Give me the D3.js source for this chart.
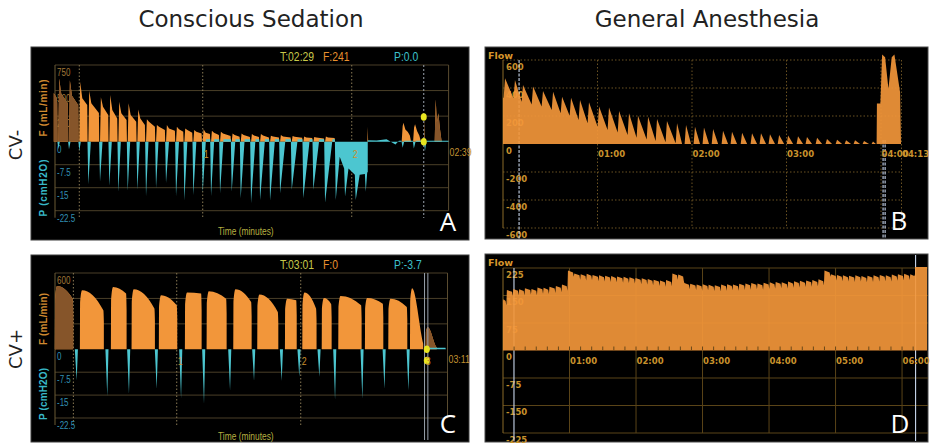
<!DOCTYPE html>
<html>
<head>
<meta charset="utf-8">
<script src="https://cdn.jsdelivr.net/npm/d3@7"></script>
<style>
  body { margin: 0; background: #fff; }
  svg { display: block; }
</style>
</head>
<body>
<svg id="fig" width="930" height="444"></svg>
<script>
// ---------------- Panel A: conscious sedation, CV- ----------------
const aTimeEnd = 159;                       // 02:39
const aBreathT = [0, 1.85, 6.16, 10.31, 13.95, 18.65, 22.40, 26.03, 29.79, 33.68, 37.17, 41.20, 45.22, 49.25,
  52.61, 56.23, 60.0, 63.35, 66.97, 71.67, 75.29, 79.45, 83.08, 87.1, 91.13, 95.84, 100.5, 104.54, 109.25, 113.56];
const aPeak = [475, 619, 602, 586, 498, 434, 456, 391, 375, 316, 219, 163, 163, 147, 130, 114, 121, 107, 98, 81,
  80, 75, 75, 58, 65, 56, 50, 45, 50];
const aMid  = [430, 470, 450, 424, 375, 342, 310, 277, 260, 228, 195, 147, 130, 121, 114, 98, 88, 88, 81, 65,
  65, 60, 60, 50, 52, 48, 42, 40, 42];
const aEnd  = [380, 375, 358, 358, 280, 260, 228, 212, 195, 163, 147, 114, 107, 98, 88, 81, 75, 65, 55, 49,
  45, 45, 40, 40, 40, 38, 35, 32, 35];
const aTailFlow = [[126.3, 0], [126.45, 146], [126.6, 0], [140.1, 0], [140.5, 150], [140.8, 186], [141.6, 120],
  [142.6, 95], [143.4, 60], [143.9, 0], [144.7, 0], [145.1, 140], [145.5, 170], [146.3, 105], [147.2, 60],
  [147.9, 0], [149.1, 0], [149.2, 241], [149.35, 0], [153.4, 0], [153.8, 414], [154.3, 190], [154.9, 277],
  [155.5, 130], [156.2, 0], [159, 0]];
const aDipT = [1.85, 6.16, 10.31, 13.95, 18.65, 22.40, 26.03, 29.79, 33.68, 37.17, 41.20, 45.22, 49.25, 52.61,
  56.23, 60.0, 63.35, 66.97, 71.67, 75.29, 79.45, 83.08, 87.1, 91.13, 95.84, 100.5, 104.54, 109.25, 113.56,
  117.3, 121.6, 125.64];
const aDipP = [-2.5, -2.5, -3.0, -13.9, -13.0, -14.4, -16.3, -16.0, -15.7, -17.7, -15.2, -13.5, -17.7, -19.2,
  -17.4, -16.6, -17.7, -16.8, -16.3, -18.4, -20.0, -19.0, -19.2, -16.8, -15.7, -18.4, -15.7, -19.8, -19.0,
  -17.9, -19.0, -16.3];
const aDipRise = [0.6, 0.6, 0.6, 1.0, 1.0, 1.0, 1.0, 1.0, 1.0, 1.0, 1.0, 1.2, 1.2, 1.2, 1.2, 1.3, 1.3, 1.4,
  1.5, 1.6, 1.8, 2.0, 2.0, 2.2, 2.4, 2.6, 2.4, 3.0, 1.6, 1.4, 1.6, 0.6];
const aDipBase = [0, 0, 0, 0, 0, 0, 0, 0, 0, 0, 0, 0, 0, 0, 0, 0.8, 0.8, 0.8, 0.8, 0.8, 0.8, 0.8, 0.8, 0.8,
  0.8, 0.8, 0.8, 0.8, -4.9, -8.7, -10.8, -10];
// level reached just before each dip inside the long breath-hold stretch
const aHoldLevel = [[116.9, -8.7], [121.2, -10.8], [125.3, -10.5]];
const aTailPres = [[126.45, -10], [126.45, 0.5], [130, 0.4], [134, 0.8], [137.6, -0.9], [139, 0.3], [140, 0.3],
  [140.5, -2], [141.2, 0.3], [144.6, 0.3], [145, -2.2], [145.8, 0.3], [149, 0.3], [149.5, -3], [150.1, 0.3],
  [159, 0.3]];
const aCursor = { t: 149, f: 241, p: 0.0 };
const aShade = [[0, 10.3], [149.4, 159]];

// ---------------- Panel C: conscious sedation, CV+ ----------------
const cTimeEnd = 191;                       // 03:11
const cBreathStart = [1.1, 13.2, 28.2, 38.2, 51.4, 64.0, 74.5, 87.4, 99.0, 112.4, 120.8, 130.2, 138.2, 151.1,
  162.4, 172.9, 180.5];
const cBreathEnd = [9.97, 24.8, 35.8, 49.5, 60.3, 72.1, 84.2, 96.3, 109.2, 118.1, 127.7, 135.0, 149.5, 160.0,
  171.6, 179.3, 185.8];
const cPeak = [498, 465, 490, 472, 425, 446, 457, 472, 430, 398, 446, 404, 420, 404, 398, 480, 173];
const cEndV = [398, 307, 438, 320, 346, 438, 398, 372, 294, 386, 320, 357, 346, 359, 333, 60, 20];
const cDipT = [11.6, 26.4, 36.9, 50.3, 62.1, 73.2, 85.8, 97.4, 110.8, 119.3, 129.0, 136.6, 149.8, 160.5, 172.1];
const cDipP = [-10.2, -15.4, -14.6, -13.0, -16.1, -17.9, -13.5, -10.4, -10.4, -9.1, -9.1, -16.6, -16.3, -13.0, -13.5];
const cTailPres = [[181, 0], [181.3, 0.5], [190, 0.5], [190.2, 0]];
const cCursor = { t: 181, f: 0, p: -3.7 };
const cShade = [[0, 10.0], [180.0, 191]];

// ---------------- Panel B: general anesthesia, CV- ----------------
const bTimeEnd = 253;                       // 04:13
const bStart = 330;
const bPeakT = [1.3, 7.6, 12.7, 19.1, 25.4, 31.8, 37.5, 43.2, 48.9, 54.6, 61.0, 67.3, 73.7, 80.0, 85.7, 92.1,
  97.8, 104.1, 110.5, 116.2, 121.9, 127.6, 133.4, 139.7, 145.4, 151.8, 158.1, 163.8, 169.5, 175.3, 181.0, 187.3,
  193.0, 199.4, 205.7, 212.1, 217.8, 223.5, 229.2, 234.9];
const bPeak = [469, 457, 421, 410, 379, 374, 338, 331, 314, 298, 267, 260, 236, 219, 202, 195, 179, 164, 148, 136,
  124, 117, 107, 95, 88, 81, 76, 76, 69, 64, 60, 55, 50, 45, 36, 31, 26, 26, 22, 17];
const bTrough = [326, 302, 283, 267, 243, 219, 202, 171, 148, 124, 100, 83, 64, 45, 33, 21, 12, 5, 0, 0,
  0, 0, 0, 0, 0, 0, 0, 0, 0, 0, 0, 0, 0, 0, 0, 0, 0, 0, 0, 0];
const bFinal = [[237.2, 0], [237.4, 290], [239.6, 290], [240.7, 640], [242.6, 620], [244.7, 395], [246.8, 620],
  [248.5, 640], [252.1, 370], [252.7, 0]];
const bCursors = [10.2, 241.3, 242.6];

// ---------------- Panel D: general anesthesia, CV+ ----------------
const dTimeEnd = 382.5;
const dStart = 136;
const dNotchT = [3, 8.8, 14.1, 19.3, 25.2, 30.6, 36.1, 41.4, 47.2, 52.7, 58.1, 63.8, 69.6, 75.0, 80.3, 86.2, 91.7,
  97.1, 102.4, 108.3, 113.6, 119.0, 124.7, 130.1, 135.4, 141.2, 146.6, 152.3, 157.6, 163.1, 168.4, 174.2, 179.7,
  185.0, 190.6, 196.3, 201.7, 207.0, 212.6, 218.2, 223.5, 229.1, 234.6, 240.2, 245.5, 251.0, 256.7, 262.1,
  267.4, 273.0, 278.6, 284.1, 289.5, 295.3, 300.8, 306.2, 311.7, 317.4, 322.9, 328.3, 333.8, 339.4, 344.9,
  350.3, 355.8, 361.4, 366.9];
const dTop = [140, 165, 168, 167, 170, 168, 172, 171, 174, 176, 180, 218, 210, 208, 209, 206, 205, 204, 203, 202,
  201, 200, 198, 197, 195, 193, 191, 192, 210, 207, 184, 182, 180, 181, 179, 178, 180, 181, 180, 182, 183, 184,
  183, 185, 186, 187, 186, 188, 189, 190, 191, 192, 194, 218, 208, 206, 205, 204, 205, 203, 204, 205, 206, 205,
  207, 208, 209, 208];
const dNotch = 17;
const dFinal = [[371.7, 208], [371.7, 228], [382.5, 228]];
const dCursors = [9.9, 372.2];

// ---------------- shared styling ----------------
const ORANGE = "#f2963a", ORANGE_DK = "#86552a", CYAN = "#4cc6d0";
const SANS = "'Liberation Sans',Arial,sans-serif";
const BOLD = "'DejaVu Sans',Verdana,sans-serif";
const svg = d3.select("#fig");
const mmss = s => { const m = Math.floor(s / 60), r = Math.round(s % 60); return String(m).padStart(2, "0") + ":" + String(r).padStart(2, "0"); };

// condensed monitor lettering: a regular sans squeezed horizontally
function narrow(g, x, y, str, size, fill, anchor) {
  return g.append("text").attr("transform", `translate(${x},${y}) scale(0.8,1)`)
    .attr("font-family", SANS).attr("font-size", size).attr("fill", fill)
    .attr("text-anchor", anchor || "start").text(str);
}

// titles and row labels
svg.append("text").attr("x", 251).attr("y", 27).attr("text-anchor", "middle")
  .attr("font-family", "'DejaVu Sans',sans-serif").attr("font-size", 23).attr("fill", "#222").text("Conscious Sedation");
svg.append("text").attr("x", 707).attr("y", 27).attr("text-anchor", "middle")
  .attr("font-family", "'DejaVu Sans',sans-serif").attr("font-size", 23).attr("fill", "#222").text("General Anesthesia");
[["CV-", 145], ["CV+", 349]].forEach(([t, cy]) => {
  svg.append("text").attr("transform", `translate(22,${cy}) rotate(-90)`).attr("text-anchor", "middle")
    .attr("font-family", "'DejaVu Sans',sans-serif").attr("font-size", 18).attr("fill", "#222").text(t);
});

function panelLetter(ch, x, y) {
  svg.append("text").attr("x", x).attr("y", y).attr("text-anchor", "middle")
    .attr("font-family", "'Open Sans','DejaVu Sans',sans-serif").attr("font-size", 26).attr("fill", "#fff").text(ch);
}

// ---------- sedation monitor panels (flow + pressure) ----------
function sedationPanel(o) {
  const g = svg.append("g");
  const { x, yF, yP } = o;
  g.append("rect").attr("x", o.box[0]).attr("y", o.box[1]).attr("width", o.box[2]).attr("height", o.box[3])
    .attr("fill", "#000").attr("stroke", "#3c3c3c");
  const xl = 55, xr = x(o.tEnd), yTop = yF(o.flowTicks[o.flowTicks.length - 1]), yBot = yP(-22.5);

  // grid
  const grid = g.append("g").attr("stroke", "#4a3f28").attr("stroke-width", 1);
  o.flowTicks.forEach(v => grid.append("line").attr("x1", xl).attr("x2", xr).attr("y1", yF(v)).attr("y2", yF(v)));
  o.presTicks.forEach(v => grid.append("line").attr("x1", xl).attr("x2", xr).attr("y1", yP(v)).attr("y2", yP(v)));
  g.append("line").attr("x1", xl).attr("x2", xl).attr("y1", yTop).attr("y2", yBot + 7).attr("stroke", "#6a5a35");
  g.append("line").attr("x1", xr).attr("x2", xr).attr("y1", yTop).attr("y2", yBot).attr("stroke", "#5a4c30");
  o.vLines.forEach(t => g.append("line").attr("x1", x(t)).attr("x2", x(t)).attr("y1", yTop).attr("y2", yBot + 7)
    .attr("stroke", "#8a7a55").attr("stroke-dasharray", "1.5,2"));

  // tick labels (drawn beneath the traces)
  o.flowTicks.forEach(v => narrow(g, 57, yF(v) + 11, v, 10, "#a07838"));
  [0].concat(o.presTicks).forEach(v => narrow(g, 57, yP(v) + 11, v, 10, "#3290b4"));

  // flow
  const area = d3.area().x(d => x(d[0])).y0(yF(0)).y1(d => yF(d[1])).curve(o.flowCurve || d3.curveLinear);
  g.append("path").attr("d", area(o.flow)).attr("fill", ORANGE);
  const cid = o.id + "-shade";
  const cp = svg.append("clipPath").attr("id", cid);
  o.shade.forEach(([a, b]) => cp.append("rect").attr("x", x(a)).attr("y", yTop - 20).attr("width", x(b) - x(a)).attr("height", 200));
  g.append("path").attr("d", area(o.flow)).attr("fill", ORANGE_DK).attr("clip-path", `url(#${cid})`);

  // pressure
  const parea = d3.area().x(d => x(d[0])).y0(yP(0)).y1(d => yP(d[1]));
  g.append("path").attr("d", parea(o.pres)).attr("fill", CYAN);

  // cursor
  o.cursorLines.forEach(t => g.append("line").attr("x1", x(t)).attr("x2", x(t)).attr("y1", yTop).attr("y2", o.cursorBottom)
    .attr("stroke", "#9aa2ac").attr("stroke-width", 1).attr("stroke-dasharray", o.cursorDash));
  g.append("ellipse").attr("cx", x(o.cursor.t)).attr("cy", yF(o.cursor.f)).attr("rx", 3).attr("ry", 3.8).attr("fill", "#e8e520");
  g.append("ellipse").attr("cx", x(o.cursor.t)).attr("cy", yP(o.cursor.p)).attr("rx", 3).attr("ry", 3.8).attr("fill", "#e8e520");

  // minute marks along the zero line
  o.minutes.forEach(m => narrow(g, x(m * 60) + 1, yF(0) + 16, m, 11, "#c8902e"));
  narrow(g, xr + 1, yF(0) + 14, mmss(o.tEnd), 11, "#c09030");

  // readouts
  const hy = o.box[1] + 14;
  narrow(g, 280, hy, "T:" + mmss(o.cursor.t), 13, "#c8c84a");
  narrow(g, 323, hy, "F:" + o.cursor.f, 13, "#e8902e");
  narrow(g, 394, hy, "P:" + (o.cursor.p === 0 ? "0.0" : o.cursor.p), 13, "#3cc0cc");

  // axis titles
  g.append("text").attr("transform", `translate(47,${o.fTitleY}) rotate(-90)`).attr("text-anchor", "middle")
    .attr("font-family", SANS).attr("font-weight", "bold").attr("font-size", 10)
    .attr("textLength", o.titleLen).attr("lengthAdjust", "spacing").attr("fill", "#d08a30").text("F (mL/min)");
  g.append("text").attr("transform", `translate(47,${o.pTitleY}) rotate(-90)`).attr("text-anchor", "middle")
    .attr("font-family", SANS).attr("font-weight", "bold").attr("font-size", 10)
    .attr("textLength", o.titleLen).attr("lengthAdjust", "spacing").attr("fill", "#38b8c8").text("P (cmH2O)");
  narrow(g, 218, o.timeLabelY, "Time (minutes)", 10.5, "#b8b040");
}

// --- A
(function () {
  const flow = [];
  for (let i = 0; i < aPeak.length; i++) {
    const s = aBreathT[i], e = aBreathT[i + 1];
    if (i === 0) flow.push([s, aPeak[i]]); else { flow.push([s, 0]); flow.push([s + 0.35, aPeak[i]]); }
    flow.push([s + 1.2, aMid[i]]);
    flow.push([e - 0.45, aEnd[i]]);
    flow.push([e - 0.3, 0]);
  }
  const pres = [[0, 0]];
  let base = 0;
  aDipT.forEach((t, i) => {
    const hold = aHoldLevel.find(h => Math.abs(h[0] - (t - 0.4)) < 0.3);
    pres.push(hold ? [t - 0.35, hold[1]] : [t - 0.35, base]);
    pres.push([t, aDipP[i]]);
    pres.push([t + aDipRise[i], aDipBase[i]]);
    base = aDipBase[i];
  });
  sedationPanel({
    id: "A", box: [31, 47, 438, 193],
    x: d3.scaleLinear().domain([0, aTimeEnd]).range([53.7, 448.6]),
    yF: d3.scaleLinear().domain([0, 750]).range([141.7, 65]),
    yP: d3.scaleLinear().domain([-22.5, 0]).range([210.7, 141.7]),
    tEnd: aTimeEnd, flowTicks: [250, 500, 750], presTicks: [-7.5, -15, -22.5],
    vLines: [10.3, 60, 120], flow: flow.concat(aTailFlow), pres: pres.concat(aTailPres),
    shade: aShade, cursor: aCursor, cursorLines: [aCursor.t], cursorBottom: 218, cursorDash: "2,2",
    minutes: [1, 2], fTitleY: 108, pTitleY: 188, titleLen: 57, timeLabelY: 235
  });
  panelLetter("A", 448, 231);
})();

// --- C
(function () {
  const flow = [];
  cPeak.forEach((p, i) => {
    const s = cBreathStart[i], e = cBreathEnd[i];
    flow.push([s, 0], [s + 0.05, p * 0.8], [s + 1.0, p], [e - 0.3, cEndV[i]], [e - 0.05, cEndV[i] * 0.7], [e, 0]);
  });
  const pres = [[0, 0]];
  cDipT.forEach((t, i) => { pres.push([t - 0.9, 0], [t, cDipP[i]], [t + 0.6, 0]); });
  sedationPanel({
    id: "C", box: [31, 255, 438, 187],
    x: d3.scaleLinear().domain([0, cTimeEnd]).range([52.7, 447.5]),
    yF: d3.scaleLinear().domain([0, 600]).range([349.3, 273]),
    yP: d3.scaleLinear().domain([-22.5, 0]).range([418, 349.3]),
    tEnd: cTimeEnd, flowTicks: [200, 400, 600], presTicks: [-7.5, -15, -22.5],
    vLines: [10.0, 60, 120], flow: [[0, 0]].concat(flow, [[cTimeEnd, 0]]), flowCurve: d3.curveMonotoneX,
    pres: pres.concat(cTailPres), shade: cShade, cursor: cCursor, cursorLines: [179.9, 181.5],
    cursorBottom: 440, cursorDash: null,
    minutes: [1, 2, 3], fTitleY: 319, pTitleY: 394, titleLen: 52, timeLabelY: 440
  });
  panelLetter("C", 448, 433);
})();

// ---------- anesthesia ventilator panels (flow only) ----------
function flowPanel(o) {
  const g = svg.append("g");
  const { x, y } = o;
  g.append("rect").attr("x", o.box[0]).attr("y", o.box[1]).attr("width", o.box[2]).attr("height", o.box[3])
    .attr("fill", "#000").attr("stroke", "#4a4a4a");
  const cid = o.id + "-clip";
  svg.append("clipPath").attr("id", cid).append("rect").attr("x", o.box[0]).attr("y", o.box[1])
    .attr("width", o.box[2]).attr("height", o.box[3]);
  const xl = x(0), xr = o.gridRight, yTop = y(o.yTicks[0]), yBot = y(o.yTicks[o.yTicks.length - 1]);

  const grid = g.append("g").attr("stroke", o.gridColor).attr("stroke-dasharray", o.gridDash);
  o.yTicks.forEach(v => { if (v !== 0) grid.append("line").attr("x1", xl).attr("x2", xr).attr("y1", y(v)).attr("y2", y(v)); });
  o.minutes.forEach(m => grid.append("line").attr("x1", x(m * 60)).attr("x2", x(m * 60)).attr("y1", yTop).attr("y2", yBot));
  if (o.rightBorder) grid.append("line").attr("x1", x(o.tEnd)).attr("x2", x(o.tEnd)).attr("y1", yTop).attr("y2", yBot);
  g.append("line").attr("x1", xl).attr("x2", xl).attr("y1", yTop).attr("y2", yBot).attr("stroke", "#8a6a28");

  // y tick labels
  o.yTicks.forEach(v => g.append("text").attr("x", 506).attr("y", y(v) + 9.5).attr("font-family", BOLD)
    .attr("font-weight", "bold").attr("font-size", 8.5).attr("fill", "#c8922c").text(v));

  // cursors beneath the trace
  o.cursors.forEach((t, i) => g.append("line").attr("x1", x(t)).attr("x2", x(t)).attr("y1", o.cursorTop[i]).attr("y2", o.cursorBottom)
    .attr("stroke", "#c8d6ec").attr("stroke-width", 1.1).attr("stroke-dasharray", o.cursorDash));

  const area = d3.area().x(d => x(d[0])).y0(y(0)).y1(d => y(d[1]));
  g.append("path").attr("d", area(o.flow)).attr("fill", ORANGE).attr("fill-opacity", 0.92).attr("clip-path", `url(#${cid})`);

  if (o.minorTicks) o.minorTicks.forEach(t => g.append("line").attr("x1", x(t)).attr("x2", x(t))
    .attr("y1", y(0)).attr("y2", y(0) - 4).attr("stroke", "#6a4818").attr("stroke-width", 1));

  // time labels
  o.minutes.forEach(m => g.append("text").attr("x", x(m * 60) + 0.5).attr("y", y(0) + 13).attr("font-family", BOLD)
    .attr("font-weight", "bold").attr("font-size", 8.5).attr("fill", "#c8922c").text(mmss(m * 60)));
  if (o.endLabel) g.append("text").attr("x", x(o.tEnd) + 0.5).attr("y", y(0) + 13).attr("font-family", BOLD)
    .attr("font-weight", "bold").attr("font-size", 8.5).attr("fill", "#c8922c").text(mmss(o.tEnd));

  g.append("text").attr("x", 488).attr("y", o.box[1] + 12).attr("font-family", BOLD).attr("font-weight", "bold")
    .attr("font-size", 9.5).attr("fill", "#d8962c").text("Flow");
}

// --- B
(function () {
  const flow = [[0, bStart]];
  bPeakT.forEach((t, i) => {
    const prev = i === 0 ? bStart : bTrough[i - 1];
    const next = i + 1 < bPeakT.length ? bPeakT[i + 1] : bFinal[0][0];
    flow.push([t - 0.9, prev], [t, bPeak[i]]);
    if (bTrough[i] > 0) flow.push([next - 0.9, bTrough[i]]);
    else flow.push([Math.min(t + 3.2, next - 0.4), 0]);
  });
  const x = d3.scaleLinear().domain([0, bTimeEnd]).range([503, 901.5]);
  flowPanel({
    id: "B", box: [485, 47, 443, 192], x, y: d3.scaleLinear().domain([-600, 600]).range([228, 60]),
    tEnd: bTimeEnd, gridRight: x(bTimeEnd), rightBorder: true, endLabel: true,
    yTicks: [600, 400, 200, 0, -200, -400, -600], minutes: [1, 2, 3, 4],
    gridColor: "#6a5222", gridDash: "1.5,2", flow: flow.concat(bFinal),
    cursors: bCursors, cursorTop: [60, 140, 140], cursorBottom: 239, cursorDash: "3,1.5"
  });
  panelLetter("B", 899, 230);
})();

// --- D
(function () {
  const flow = [[0, dStart]];
  dTop.forEach((v, k) => {
    const a = k === 0 ? 0 : dNotchT[k - 1];
    const b = k < dNotchT.length ? dNotchT[k] : dFinal[0][0];
    flow.push([a + 0.5, v], [b - 0.6, v - 5]);
    if (k < dNotchT.length) flow.push([b, v - dNotch]);
  });
  const x = d3.scaleLinear().domain([0, dTimeEnd]).range([503, 927]);
  flowPanel({
    id: "D", box: [485, 254, 443, 188], x, y: d3.scaleLinear().domain([-225, 225]).range([433, 268]),
    tEnd: dTimeEnd, gridRight: 928, rightBorder: false, endLabel: false,
    yTicks: [225, 150, 75, 0, -75, -150, -225], minutes: [1, 2, 3, 4, 5, 6],
    gridColor: "#5a4418", gridDash: null, flow: flow.concat(dFinal),
    cursors: dCursors, cursorTop: [268, 255], cursorBottom: 441, cursorDash: null,
    minorTicks: d3.range(10, 380, 10)
  });
  panelLetter("D", 900, 433);
})();
</script>
</body>
</html>
